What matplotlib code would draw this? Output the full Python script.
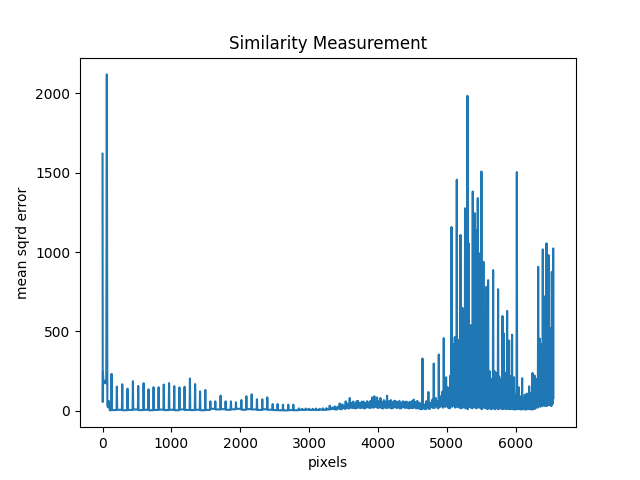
import matplotlib
matplotlib.use("Agg")
import matplotlib.pyplot as plt

# first few samples, read point by point
head_x = [0, 3, 6, 14, 24, 34, 46, 54, 62, 70, 80, 94, 104]
head_y = [1620, 55, 243, 170, 185, 175, 190, 172, 2120, 30, 22, 60, 3]

# regular spikes on the left part: position, peak, level after the spike
left_x = [131, 208, 286, 363, 441, 518, 596, 668, 741, 814, 889, 966, 1041, 1116,
          1191, 1269, 1344, 1416, 1492, 1565, 1637, 1714, 1787, 1864, 1937, 2015,
          2088, 2165, 2242, 2319, 2392, 2470, 2542, 2620, 2697, 2770]
left_y = [232, 152, 167, 139, 186, 156, 173, 135, 148, 148, 165, 174, 155, 147,
          151, 203, 168, 122, 131, 59, 59, 95, 59, 59, 53, 67,
          91, 103, 72, 72, 84, 42, 42, 38, 38, 38]
left_trough = [4, 6, 3, 5, 8, 4, 6, 3, 5, 7, 4, 6, 3, 8,
               5, 4, 6, 3, 5, 12, 8, 10, 6, 9, 12, 6,
               10, 8, 5, 9, 6, 4, 3, 2, 4, 3]

# noisy middle part
mid_x = [2850, 2900, 2950, 3000, 3050, 3100, 3150, 3200, 3250, 3298, 3335, 3370,
         3410, 3443, 3482, 3510, 3530, 3560, 3589, 3615, 3640, 3665, 3690, 3710,
         3740, 3765, 3790, 3815, 3840, 3865, 3890, 3913, 3947, 3986, 4010, 4035,
         4060, 4085, 4110, 4131, 4160, 4185, 4210, 4235, 4260, 4285, 4310, 4335,
         4360, 4385, 4410, 4435, 4460, 4490, 4518, 4545, 4570, 4595, 4620]
mid_y = [15, 12, 14, 12, 12, 14, 12, 15, 16, 32, 20, 27,
         25, 46, 40, 30, 59, 45, 80, 50, 58, 45, 60, 61,
         50, 57, 58, 48, 60, 52, 62, 84, 91, 84, 60, 80,
         55, 67, 58, 95, 60, 67, 55, 63, 60, 55, 62, 50,
         60, 55, 58, 52, 55, 60, 70, 55, 62, 50, 46]
mid_trough = [6, 5, 7, 5, 6, 5, 7, 6, 8, 10, 12, 8,
              15, 10, 18, 12, 20, 15, 22, 18, 20, 15, 22, 20,
              18, 22, 15, 20, 25, 18, 22, 20, 25, 18, 22, 20,
              15, 25, 18, 20, 22, 15, 20, 25, 18, 22, 15, 20,
              25, 18, 22, 15, 20, 18, 22, 15, 20, 12, 10]

# large spikes on the right part
right_x = [4645, 4680, 4700, 4731, 4760, 4790, 4809, 4840, 4865, 4882, 4910, 4935,
           4954, 4975, 4988, 5011, 5030, 5048, 5066, 5080, 5098, 5114, 5128, 5143,
           5155, 5170, 5183, 5197, 5212, 5226, 5240, 5252, 5263, 5274, 5286, 5298,
           5308, 5317, 5330, 5342, 5352, 5363, 5375, 5390, 5404, 5414, 5424, 5436,
           5448, 5460, 5472, 5486, 5501, 5515, 5530, 5543, 5556, 5574, 5586, 5598,
           5618, 5637, 5655, 5671, 5690, 5710, 5728, 5743, 5760, 5780, 5795, 5807,
           5826, 5845, 5860, 5874, 5890, 5903, 5920, 5935, 5946, 5960, 5974, 5995,
           6015, 6030, 6044, 6065, 6092, 6110, 6131, 6160, 6180, 6194, 6215, 6243,
           6260, 6272, 6290, 6305, 6325, 6338, 6350, 6362, 6375, 6392, 6405, 6417,
           6430, 6446, 6460, 6475, 6490, 6505, 6523, 6533, 6543]
right_y = [329, 40, 60, 118, 50, 70, 297, 80, 60, 354, 90, 120,
           458, 150, 211, 148, 100, 220, 1158, 300, 420, 464, 350, 1456,
           401, 300, 450, 1108, 500, 648, 420, 550, 1276, 500, 600, 1985,
           620, 1055, 420, 496, 540, 450, 1382, 560, 1245, 600, 1139, 520,
           1340, 580, 992, 480, 1508, 420, 939, 633, 300, 781, 380, 823,
           250, 139, 200, 886, 250, 180, 240, 766, 215, 150, 200, 597,
           487, 180, 240, 629, 250, 443, 200, 220, 479, 150, 211, 100,
           1504, 120, 148, 90, 205, 80, 101, 108, 90, 154, 110, 238,
           150, 222, 120, 200, 907, 350, 454, 300, 420, 1017, 500, 720,
           450, 1055, 600, 981, 450, 520, 875, 350, 1023]
right_trough = [15, 10, 20, 12, 25, 18, 20, 30, 15, 25, 30, 20,
                35, 25, 30, 20, 15, 30, 25, 40, 30, 20, 35, 25,
                30, 20, 40, 15, 35, 20, 30, 25, 15, 35, 20, 10,
                30, 25, 40, 20, 35, 15, 30, 25, 20, 35, 15, 30,
                25, 20, 35, 15, 10, 25, 20, 30, 15, 20, 10, 25,
                15, 10, 20, 15, 10, 20, 15, 10, 20, 15, 10, 12,
                20, 10, 15, 12, 18, 10, 15, 12, 10, 15, 8, 10,
                12, 10, 15, 8, 12, 10, 8, 12, 10, 15, 8, 20,
                10, 15, 25, 20, 30, 40, 25, 45, 30, 35, 50, 30,
                45, 30, 50, 35, 45, 30, 40, 50, 80]

spikes = sorted(zip(left_x + mid_x + right_x,
                    left_y + mid_y + right_y,
                    left_trough + mid_trough + right_trough))

xs = list(head_x)
ys = list(head_y)
for i, (x, h, t) in enumerate(spikes):
    gap_prev = x - xs[-1]
    gap_next = spikes[i + 1][0] - x if i + 1 < len(spikes) else 10
    d = min(5, gap_prev / 2, gap_next / 2)
    xs.append(x - d)
    ys.append(ys[-1])
    xs.append(x)
    ys.append(h)
    xs.append(x + d)
    ys.append(t)

fig = plt.figure(figsize=(6.4, 4.8), dpi=100)
plt.plot(xs, ys)
plt.title('Similarity Measurement')
plt.xlabel('pixels')
plt.ylabel('mean sqrd error')
plt.savefig('out.png')
